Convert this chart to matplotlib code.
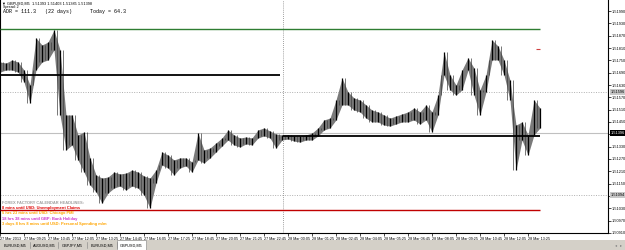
import matplotlib
matplotlib.use("Agg")
import matplotlib.pyplot as plt
from matplotlib.patches import Rectangle
import matplotlib.transforms as mtransforms

# ---------------- data ----------------
# bar index of sampled points (M5 bars from 27 Mar 08:05)
bar_idx = list(range(0, 364, 4))
highs = [1.51742, 1.51737, 1.51752, 1.51742, 1.51703, 1.51630, 1.51859, 1.51825, 1.51839, 1.51898,
         1.51801, 1.51484, 1.51484, 1.51387, 1.51401, 1.51275, 1.51192, 1.51177, 1.51182, 1.51206,
         1.51197, 1.51201, 1.51216, 1.51206, 1.51187, 1.51177, 1.51216, 1.51304, 1.51289, 1.51265,
         1.51275, 1.51275, 1.51255, 1.51396, 1.51314, 1.51323, 1.51348, 1.51372, 1.51411, 1.51387,
         1.51372, 1.51377, 1.51372, 1.51411, 1.51421, 1.51406, 1.51391, 1.51387, 1.51387, 1.51382,
         1.51382, 1.51387, 1.51396, 1.51421, 1.51460, 1.51469, 1.51557, 1.51664, 1.51596, 1.51567,
         1.51557, 1.51533, 1.51508, 1.51499, 1.51484, 1.51469, 1.51479, 1.51489, 1.51499, 1.51518,
         1.51499, 1.51533, 1.51499, 1.51581, 1.51791, 1.51679, 1.51630, 1.51703, 1.51762, 1.51713,
         1.51606, 1.51679, 1.51849, 1.51820, 1.51752, 1.51654, 1.51435, 1.51450, 1.51387, 1.51557,
         1.51518]
lows = [1.51693, 1.51703, 1.51703, 1.51693, 1.51645, 1.51542, 1.51703, 1.51742, 1.51752, 1.51801,
        1.51484, 1.51314, 1.51338, 1.51265, 1.51206, 1.51143, 1.51109, 1.51055, 1.51104, 1.51128,
        1.51138, 1.51119, 1.51138, 1.51128, 1.51094, 1.51031, 1.51153, 1.51240, 1.51226, 1.51192,
        1.51226, 1.51236, 1.51206, 1.51265, 1.51250, 1.51275, 1.51304, 1.51333, 1.51362, 1.51338,
        1.51328, 1.51343, 1.51338, 1.51372, 1.51382, 1.51372, 1.51323, 1.51362, 1.51367, 1.51357,
        1.51352, 1.51362, 1.51362, 1.51382, 1.51411, 1.51421, 1.51460, 1.51533, 1.51533, 1.51508,
        1.51499, 1.51469, 1.51450, 1.51450, 1.51435, 1.51430, 1.51440, 1.51450, 1.51450, 1.51460,
        1.51440, 1.51460, 1.51401, 1.51484, 1.51679, 1.51606, 1.51581, 1.51606, 1.51703, 1.51581,
        1.51484, 1.51596, 1.51752, 1.51752, 1.51679, 1.51557, 1.51216, 1.51362, 1.51289, 1.51387,
        1.51421]

price_labels = [1.51990, 1.51930, 1.51870, 1.51810, 1.51750, 1.51690, 1.51630, 1.51570, 1.51510,
                1.51450, 1.51390, 1.51330, 1.51270, 1.51210, 1.51150, 1.51090, 1.51030, 1.50970,
                1.50910]
time_ticks = list(range(0, 368, 16))
time_labels = ["27 Mar 2013", "27 Mar 09:25", "27 Mar 10:45", "27 Mar 12:05", "27 Mar 13:25",
               "27 Mar 14:45", "27 Mar 16:05", "27 Mar 17:25", "27 Mar 18:45", "27 Mar 20:05",
               "27 Mar 21:25", "27 Mar 22:45", "28 Mar 00:05", "28 Mar 01:25", "28 Mar 02:45",
               "28 Mar 04:05", "28 Mar 05:25", "28 Mar 06:45", "28 Mar 08:05", "28 Mar 09:25",
               "28 Mar 10:45", "28 Mar 12:05", "28 Mar 13:25"]

green_level = 1.51903
black_level_left = 1.51679
black_level_right = 1.51380
red_level = 1.51021
bid_price = 1.51396
dotted_levels = [1.51596, 1.51094]
day_separator_bar = 188.7
last_bar = 360
red_dash_price = 1.51806

headlines = ["FOREX FACTORY CALENDAR HEADLINES:",
             "8 mins until USD: Unemployment Claims",
             "5 hrs 23 mins until USD: Chicago PMI",
             "18 hrs 38 mins until GBP: Bank Holiday",
             "3 days 8 hrs 8 mins until USD: Personal Spending m/m"]
headline_colors = ["#a0a0a0", "#e00000", "#ffa500", "#cc33cc", "#ffa500"]
tabs = ["EURUSD,M5", "AUDUSD,M5", "GBPJPY,M5", "EURUSD,M5", "GBPUSD,M5"]

# ---------------- figure ----------------
W, H = 625, 250
fig = plt.figure(figsize=(W / 100, H / 100), dpi=100)
fig.patch.set_facecolor("white")

def fx(px):
    return px / W

def fy(py):
    return 1 - py / H

plot_right = 608
plot_bottom = 233
ax = fig.add_axes([0, 1 - plot_bottom / H, plot_right / W, plot_bottom / H])
ax.set_xlim(0, plot_right / 1.5)
ymax = 1.52044
ymin = ymax - plot_bottom * 0.0000487
ax.set_ylim(ymin, ymax)
ax.set_facecolor("white")

# grid-like levels
ax.axhline(bid_price, color="#c0c0c0", lw=0.8, zorder=1)
for lv in dotted_levels:
    ax.axhline(lv, color="#b0b0b0", lw=0.7, ls=(0, (1, 1.5)), zorder=1)
ax.axvline(day_separator_bar, color="#808080", lw=0.6, ls=(0, (1, 1.5)), zorder=1)

# price bars
ax.fill_between(bar_idx, lows, highs, color="#7a7a7a", lw=0, zorder=2)
ax.vlines(bar_idx, lows, highs, color="black", lw=0.9, zorder=3)
ax.vlines([b + 2 for b in bar_idx[:-1]], lows[1:], highs[:-1], color="#404040", lw=0.5,
          zorder=3)

# levels
ax.hlines(green_level, 0, last_bar, color="#2e7d32", lw=1.0, zorder=4)
ax.hlines(black_level_left, 0, day_separator_bar - 2, color="black", lw=1.3, zorder=4)
ax.hlines(black_level_right, day_separator_bar, last_bar, color="black", lw=1.3, zorder=4)
ax.hlines(red_level, 0, last_bar, color="#c00000", lw=1.0, zorder=4)
ax.hlines(red_dash_price, last_bar - 3, last_bar, color="#d04040", lw=0.8, zorder=4)

# axes styling
ax.spines["top"].set_visible(False)
ax.spines["left"].set_linewidth(0.8)
ax.spines["right"].set_linewidth(0.8)
ax.spines["bottom"].set_linewidth(0.8)

ax.yaxis.tick_right()
special = [bid_price] + dotted_levels
shown = [p if all(abs(p - s) > 0.00018 for s in special) else None for p in price_labels]
ax.set_yticks(price_labels)
ax.set_yticklabels(["%.5f" % p if s is not None else "" for p, s in zip(price_labels, shown)])
ax.tick_params(axis="y", which="both", labelsize=2.8, length=2, width=0.5, pad=1,
               direction="out")
ax.set_xticks(time_ticks)
ax.set_xticklabels(time_labels, ha="left")
ax.tick_params(axis="x", labelsize=2.7, length=2, width=0.5, pad=1, direction="out")
for lbl in ax.get_xticklabels() + ax.get_yticklabels():
    lbl.set_family("Liberation Sans")

trans = mtransforms.blended_transform_factory(ax.transAxes, ax.transData)
ax.text(1.004, bid_price, "%.5f" % bid_price, transform=trans, fontsize=2.8, color="white",
        va="center", ha="left", family="Liberation Sans",
        bbox=dict(boxstyle="square,pad=0.15", fc="black", ec="none"), clip_on=False)
for lv in dotted_levels:
    ax.text(1.004, lv, "%.5f" % lv, transform=trans, fontsize=2.8, color="black",
            va="center", ha="left", family="Liberation Sans",
            bbox=dict(boxstyle="square,pad=0.15", fc="#c8c8c8", ec="none"), clip_on=False)

# header texts
fig.text(fx(2), fy(3.5), "\u25bc GBPUSD,M5  1.51393 1.51403 1.51385 1.51398", fontsize=2.8,
         family="Liberation Sans", va="center", ha="left")
fig.text(fx(3), fy(7), "Spread: 2", fontsize=2.6, family="Liberation Sans", va="center")
fig.text(fx(3), fy(11), "ADR = 111.3   (22 days)      Today = 64.3", fontsize=3.6,
         family="Liberation Mono", va="center", ha="left")

# headlines
for i, (t, c) in enumerate(zip(headlines, headline_colors)):
    fig.text(fx(2), fy(203 + 5.2 * i), t, fontsize=2.9, color=c, family="Liberation Sans",
             weight="bold", va="center", ha="left")

# tab bar
fig.patches.append(Rectangle((0, 0), 1, 10 / H, transform=fig.transFigure,
                             fc="#d4d0c8", ec="none"))
tab_edges = [0, 30, 58, 87, 117, 146]
for i, t in enumerate(tabs):
    x0, x1 = tab_edges[i], tab_edges[i + 1]
    if i == len(tabs) - 1:
        fig.patches.append(Rectangle((fx(x0), 0), fx(x1 - x0), 10 / H,
                                     transform=fig.transFigure, fc="white", ec="#808080",
                                     lw=0.4))
    else:
        fig.add_artist(plt.Line2D([fx(x1), fx(x1)], [fy(248), fy(242)],
                                  transform=fig.transFigure, color="#808080", lw=0.4))
    fig.text(fx((x0 + x1) / 2), fy(245.5), t, fontsize=2.8, family="Liberation Sans",
             ha="center", va="center", color="black")
fig.text(fx(616), fy(245.5), "\u25c2", fontsize=3, color="#808080", ha="center", va="center")
fig.text(fx(621), fy(245.5), "\u25b8", fontsize=3, color="#808080", ha="center", va="center")

fig.savefig("out.png", dpi=100)
